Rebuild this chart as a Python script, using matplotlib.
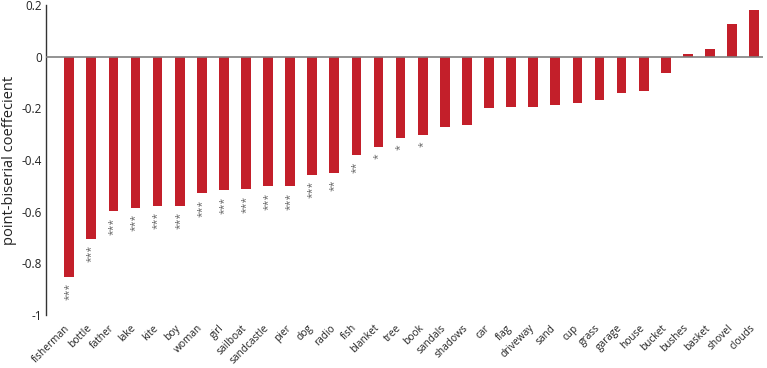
import matplotlib
matplotlib.use("Agg")
import matplotlib.pyplot as plt
import matplotlib.transforms as mtransforms

categories = ["fisherman", "bottle", "father", "lake", "kite", "boy", "woman", "girl",
              "sailboat", "sandcastle", "pier", "dog", "radio", "fish", "blanket", "tree",
              "book", "sandals", "shadows", "car", "flag", "driveway", "sand", "cup",
              "grass", "garage", "house", "bucket", "bushes", "basket", "shovel", "clouds"]
values = [-0.852, -0.704, -0.597, -0.584, -0.577, -0.577, -0.528, -0.517,
          -0.514, -0.501, -0.501, -0.457, -0.450, -0.380, -0.348, -0.314,
          -0.302, -0.273, -0.264, -0.200, -0.195, -0.195, -0.186, -0.180,
          -0.169, -0.139, -0.131, -0.062, 0.012, 0.028, 0.127, 0.179]
stars = ["***", "***", "***", "***", "***", "***", "***", "***",
         "***", "***", "***", "***", "**", "**", "*", "*",
         "*", "", "", "", "", "", "", "",
         "", "", "", "", "", "", "", ""]
yticks = [0.2, 0, -0.2, -0.4, -0.6, -0.8, -1]
ytick_labels = ["0.2", "0", "-0.2", "-0.4", "-0.6", "-0.8", "-1"]

plt.rcParams['font.family'] = ['Open Sans', 'DejaVu Sans']

fig = plt.figure(figsize=(7.67, 3.68), dpi=100)
ax = fig.add_axes([46/767, 53/368, 717/767, 310/368])
x = list(range(len(categories)))
ax.bar(x, values, width=0.44, color="#C31F2A", zorder=2)
ax.axhline(0, color="#808080", lw=1.2, zorder=3)

for xi, v, s in zip(x, values, stars):
    if s:
        ax.text(xi, v - 0.025, s, rotation=90, ha="center", va="top",
                fontsize=7.5, color="#666666")

ax.set_xlim(-1.05, len(categories) - 0.6)
ax.set_ylim(-1, 0.2)
ax.set_yticks(yticks)
ax.set_yticklabels(ytick_labels, fontsize=8.5)
ax.set_xticks(x)
ax.set_xticklabels(categories, rotation=45, ha="right", rotation_mode="anchor",
                   fontsize=7.3)
ax.tick_params(axis="both", length=0, colors="#222222")
ax.tick_params(axis="y", pad=3)
ax.tick_params(axis="x", pad=4)
offset = mtransforms.ScaledTranslation(-3.5/72, -1.5/72, fig.dpi_scale_trans)
for lbl in ax.get_xticklabels():
    lbl.set_transform(lbl.get_transform() + offset)
for sp in ["top", "right", "bottom"]:
    ax.spines[sp].set_visible(False)
ax.spines["left"].set_color("#333333")
ax.spines["left"].set_linewidth(1.0)
ax.set_ylabel("point-biserial coeffecient", fontsize=10.5, color="#222222", labelpad=3)

fig.savefig("out.png", dpi=100)
